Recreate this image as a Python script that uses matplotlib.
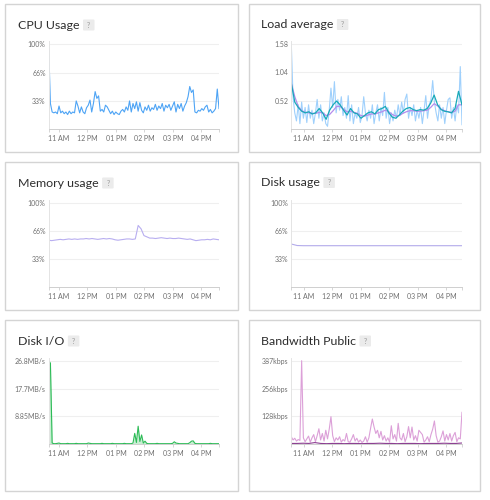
import matplotlib
matplotlib.use("Agg")
import matplotlib.pyplot as plt
import matplotlib.transforms as mtransforms
from matplotlib.patches import Rectangle, FancyBboxPatch
import numpy as np

W, H = 490, 500

hour_ticks = [11, 12, 13, 14, 15, 16]
hour_labels = ["11 AM", "12 PM", "01 PM", "02 PM", "03 PM", "04 PM"]
left_span = (10.64, 16.62)
right_span = (10.565, 16.55)

cpu_pct = [
    96, 30, 20, 19, 20, 18, 27, 19, 21, 18,
    20, 17, 21, 18, 20, 19, 33, 27, 19, 26,
    20, 18, 25, 28, 34, 20, 30, 44, 36, 39,
    21, 23, 20, 28, 26, 22, 18, 21, 17, 20,
    18, 17, 21, 23, 20, 26, 22, 33, 20, 30,
    24, 32, 21, 31, 22, 19, 26, 22, 28, 21,
    25, 23, 29, 22, 27, 24, 30, 21, 28, 25,
    29, 22, 27, 32, 20, 29, 24, 30, 21, 27,
    31, 38, 50, 43, 46, 20, 19, 22, 21, 24,
    22, 26, 28, 20, 23, 19, 21, 24, 47, 24,
]

load_1m = [
    1.58, 0.60, 0.30, 0.15, 0.45, 0.10, 0.50, 0.20, 0.40, 0.12,
    0.45, 0.20, 0.35, 0.10, 0.30, 0.55, 0.20, 0.45, 0.15, 0.30,
    0.10, 0.05, 0.35, 0.76, 0.40, 0.88, 0.30, 0.55, 0.35, 0.60,
    0.25, 0.40, 0.20, 0.62, 0.15, 0.45, 0.10, 0.30, 0.20, 0.40,
    0.12, 0.25, 0.60, 0.30, 0.15, 0.35, 0.20, 0.45, 0.10, 0.30,
    0.45, 0.15, 0.40, 0.25, 0.68, 0.20, 0.40, 0.10, 0.30, 0.15,
    0.35, 0.20, 0.45, 0.25, 0.50, 0.30, 0.55, 0.65, 0.20, 0.40,
    0.25, 0.45, 0.15, 0.35, 0.20, 0.40, 0.10, 0.35, 0.62, 0.20,
    0.45, 0.55, 0.90, 0.50, 0.30, 0.15, 0.45, 0.20, 0.40, 0.10,
    0.35, 0.55, 0.58, 0.20, 0.40, 0.15, 0.45, 0.30, 1.16, 0.08,
]

load_5m = [
    0.85, 0.50, 0.40, 0.33, 0.30, 0.32, 0.28, 0.30, 0.38, 0.30,
    0.18, 0.35, 0.45, 0.52, 0.45, 0.35, 0.26, 0.38, 0.30, 0.28,
    0.20, 0.25, 0.30, 0.32, 0.28, 0.36, 0.38, 0.42, 0.30, 0.22,
    0.20, 0.26, 0.33, 0.38, 0.40, 0.36, 0.34, 0.36, 0.35, 0.38,
    0.48, 0.63, 0.45, 0.36, 0.33, 0.32, 0.30, 0.38, 0.70, 0.45,
]

load_15m = [
    0.85, 0.60, 0.42, 0.34, 0.31, 0.30, 0.29, 0.29, 0.31, 0.30,
    0.25, 0.27, 0.34, 0.42, 0.42, 0.37, 0.32, 0.33, 0.31, 0.29,
    0.25, 0.24, 0.26, 0.28, 0.28, 0.30, 0.32, 0.35, 0.32, 0.27,
    0.24, 0.25, 0.29, 0.32, 0.34, 0.34, 0.33, 0.33, 0.34, 0.35,
    0.40, 0.47, 0.43, 0.37, 0.34, 0.32, 0.31, 0.33, 0.45, 0.45,
]

memory_pct = [
    55.5, 55.0, 55.5, 56.0, 56.5, 56.0, 56.5, 57.0, 56.5, 57.0,
    56.5, 57.0, 57.0, 57.5, 57.0, 57.5, 57.0, 56.5, 57.0, 57.5,
    57.0, 57.5, 57.0, 56.0, 55.5, 56.0, 56.5, 57.0, 57.0, 56.5,
    57.0, 73.0, 69.0, 61.0, 59.5, 58.0, 58.0, 57.5, 58.0, 58.5,
    58.0, 57.5, 58.0, 57.5, 57.5, 58.0, 57.5, 57.0, 56.5, 57.0,
    56.0, 55.0, 55.5, 56.0, 56.0, 56.5, 56.0, 57.0, 56.5, 56.0,
]

disk_pct = [
    51.0, 49.2, 49.0, 49.0, 49.0, 49.0, 49.0, 49.0, 49.0, 49.0,
    49.0, 49.0, 49.0, 49.0, 49.0, 49.0, 49.0, 49.0, 49.0, 49.0,
    49.0, 49.0, 49.0, 49.0, 49.0, 49.0, 49.0, 49.0, 49.0, 49.0,
]

disk_io_mbs = [
    26.8, 26.0, 0.4, 0.2, 0.2, 0.3, 0.4, 0.2, 0.2, 0.2,
    0.2, 0.3, 0.2, 0.2, 0.2, 0.2, 0.3, 0.2, 0.2, 0.2,
    0.2, 0.2, 0.2, 0.4, 0.3, 0.2, 0.2, 0.2, 0.2, 0.2,
    0.2, 0.3, 0.2, 0.2, 0.2, 0.2, 0.2, 0.3, 0.2, 0.2,
    0.2, 0.2, 0.2, 0.2, 0.3, 0.2, 0.2, 0.2, 0.2, 0.4,
    3.5, 0.6, 5.8, 0.9, 3.0, 0.4, 1.0, 0.3, 0.2, 0.2,
    0.2, 0.2, 0.2, 0.3, 0.2, 0.2, 0.2, 0.2, 0.2, 0.2,
    0.2, 0.2, 0.3, 0.8, 0.4, 0.3, 0.2, 0.2, 0.2, 0.2,
    0.2, 0.2, 0.5, 1.0, 1.1, 0.3, 0.2, 0.2, 0.2, 0.2,
    0.2, 0.2, 0.2, 0.2, 0.3, 0.2, 0.2, 0.2, 0.2, 0.2,
]

bw_out_kbps = [
    35, 20, 28, 15, 22, 18, 387, 30, 12, 25,
    38, 10, 30, 45, 12, 40, 72, 20, 50, 15,
    65, 25, 70, 128, 40, 12, 30, 20, 35, 10,
    22, 15, 50, 12, 10, 25, 45, 15, 28, 10,
    20, 8, 15, 35, 10, 30, 75, 117, 80, 50,
    65, 30, 60, 20, 40, 15, 30, 10, 86, 25,
    45, 15, 97, 30, 20, 50, 12, 35, 82, 30,
    80, 20, 40, 15, 65, 55, 45, 10, 20, 35,
    12, 45, 70, 108, 40, 10, 15, 35, 62, 15,
    45, 20, 50, 15, 40, 55, 12, 30, 25, 148,
]

bw_in_kbps = [
    4, 4, 5, 4, 8, 4, 3, 4, 4, 3,
    4, 4, 3, 4, 4, 5, 4, 4, 3, 4,
    4, 4, 3, 4, 4, 4, 5, 4, 4, 6,
]

fig = plt.figure(figsize=(W / 100, H / 100), dpi=100)
fig.patch.set_facecolor("white")
# pixel coordinates, y measured from the top
px = mtransforms.Affine2D().scale(1 / W, -1 / H).translate(0, 1) + fig.transFigure

cards = [
    (5, 4, 238, 152), (249, 4, 480, 152),
    (5, 162, 238, 310), (249, 162, 480, 310),
    (5, 320, 238, 491), (249, 320, 480, 491),
]
for x0, y0, x1, y1 in cards:
    fig.add_artist(Rectangle((x0, y0), x1 - x0, y1 - y0, transform=px,
                             fc="white", ec="#d4d4d4", lw=1.0, zorder=-5))

titles = [
    (17.5, 29, "CPU Usage"), (260.5, 28.5, "Load average"),
    (17.5, 187, "Memory usage"), (260.5, 186.5, "Disk usage"),
    (17.5, 345, "Disk I/O"), (260.5, 345, "Bandwidth Public"),
]
title_objs = []
for x, y, s in titles:
    t = fig.text(x, y, s, transform=px, fontsize=8.9, color="#2d2d2d",
                 va="baseline", ha="left", family="Lato")
    title_objs.append((t, y))

fig.canvas.draw()
renderer = fig.canvas.get_renderer()
for t, base in title_objs:
    bb = t.get_window_extent(renderer)
    bx = bb.x1 + 4
    fig.add_artist(FancyBboxPatch((bx, base - 9.5), 11.5, 11, transform=px,
                                  boxstyle="round,pad=0,rounding_size=1",
                                  fc="#ebebeb", ec="none"))
    fig.text(bx + 5.75, base - 4, "?", transform=px, fontsize=5.2, color="#9a9a9a",
             ha="center", va="center", family="Lato")


def panel(x0, x1, grid_top, bottom, ymax, yticks, ylabels, span):
    top = grid_top - 3
    ax = fig.add_axes([x0 / W, 1 - bottom / H, (x1 - x0) / W, (bottom - top) / H])
    ax.set_facecolor("white")
    ax.set_xlim(*span)
    ax.set_ylim(0, ymax * (bottom - top) / (bottom - grid_top))
    ax.set_yticks(yticks)
    ax.set_yticklabels(ylabels, family="Lato")
    ax.set_xticks(hour_ticks)
    ax.set_xticklabels(hour_labels, family="Lato")
    ax.set_xticks(list(span), minor=True)
    ax.grid(axis="y", color="#efefef", lw=0.8)
    ax.set_axisbelow(True)
    for side in ("top", "right"):
        ax.spines[side].set_visible(False)
    ax.spines["left"].set_color("#e4e4e4")
    ax.spines["left"].set_linewidth(0.7)
    ax.spines["bottom"].set_color("#cfcfcf")
    ax.spines["bottom"].set_linewidth(0.7)
    ax.tick_params(axis="y", length=0, pad=2.2, labelsize=5, labelcolor="#6f6f6f")
    ax.tick_params(axis="x", which="both", length=2, width=0.6, color="#cfcfcf",
                   pad=2, labelsize=5, labelcolor="#6f6f6f")
    return ax


def times(values, span):
    return np.linspace(span[0], span[1], len(values))


pct_ticks = [33, 66, 100]
pct_labels = ["33%", "66%", "100%"]

ax = panel(48.7, 219, 44, 129, 100, pct_ticks, pct_labels, left_span)
ax.plot(times(cpu_pct, left_span), cpu_pct, color="#4ea4f5", lw=0.8)

ax = panel(291.3, 462, 44, 129, 1.58, [0.527, 1.053, 1.58], ["0.52", "1.04", "1.58"], right_span)
ax.plot(times(load_1m, right_span), load_1m, color="#9fd0fc", lw=0.8)
ax.plot(times(load_15m, right_span), load_15m, color="#b58cec", lw=0.9)
ax.plot(times(load_5m, right_span), load_5m, color="#17a9b8", lw=0.9)

ax = panel(48.7, 219, 202.7, 287, 100, pct_ticks, pct_labels, left_span)
ax.plot(times(memory_pct, left_span), memory_pct, color="#b8aef0", lw=0.8)

ax = panel(291.3, 462, 202.7, 287, 100, pct_ticks, pct_labels, right_span)
ax.plot(times(disk_pct, right_span), disk_pct, color="#b3abeb", lw=0.8)

ax = panel(48.7, 219, 360.7, 444.3, 26.8, [8.93, 17.87, 26.8],
           ["8.85MB/s", "17.7MB/s", "26.8MB/s"], left_span)
t_io = times(disk_io_mbs, left_span)
ax.fill_between(t_io, disk_io_mbs, color="#5fd07f", alpha=0.35, lw=0)
ax.plot(t_io, disk_io_mbs, color="#2dbb57", lw=0.8)

ax = panel(291.3, 462, 360.7, 444.3, 387, [129, 258, 387],
           ["128kbps", "256kbps", "387kbps"], right_span)
ax.plot(times(bw_out_kbps, right_span), bw_out_kbps, color="#dca0d8", lw=0.8)
ax.plot(times(bw_in_kbps, right_span), bw_in_kbps, color="#8c3f92", lw=0.8)

fig.savefig("out.png", dpi=100, facecolor="white")
